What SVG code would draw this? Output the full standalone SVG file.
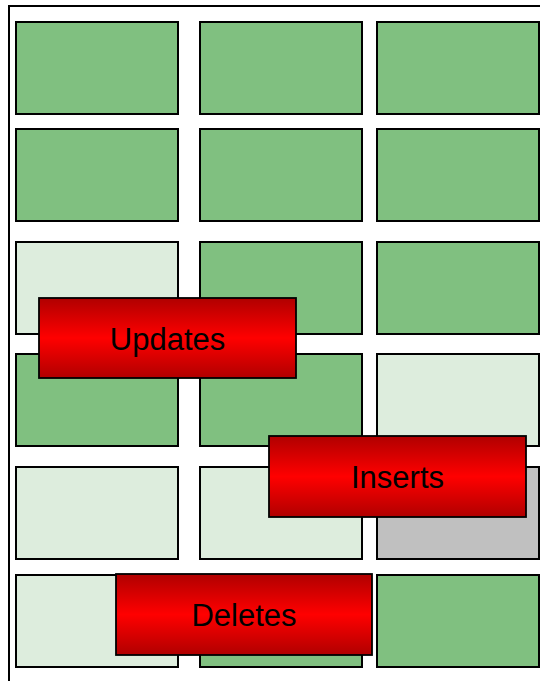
<svg xmlns="http://www.w3.org/2000/svg" width="540" height="681" viewBox="0 0 540 681">
<style>
.c{stroke:#000;stroke-width:2}
.g{fill:#80c080}
.l{fill:#ddeddd}
.y{fill:#c0c0c0}
.b{fill:url(#rg);stroke:#000;stroke-width:1.8}
.t{font-family:"Liberation Sans",Arial,sans-serif;font-size:31px;fill:#000;text-anchor:middle}
</style>
<defs>
<linearGradient id="rg" x1="0" y1="0" x2="0" y2="1">
<stop offset="0" stop-color="#b00000"/>
<stop offset="0.5" stop-color="#ff0000"/>
<stop offset="1" stop-color="#b00000"/>
</linearGradient>
</defs>
<rect x="9" y="6" width="540" height="690" fill="#fff" stroke="#000" stroke-width="2"/>
<g id="cells">
<rect class="c g" x="16" y="22" width="162" height="92"/>
<rect class="c g" x="200" y="22" width="162" height="92"/>
<rect class="c g" x="377" y="22" width="162" height="92"/>
<rect class="c g" x="16" y="129" width="162" height="92"/>
<rect class="c g" x="200" y="129" width="162" height="92"/>
<rect class="c g" x="377" y="129" width="162" height="92"/>
<rect class="c l" x="16" y="242" width="162" height="92"/>
<rect class="c g" x="200" y="242" width="162" height="92"/>
<rect class="c g" x="377" y="242" width="162" height="92"/>
<rect class="c g" x="16" y="354" width="162" height="92"/>
<rect class="c g" x="200" y="354" width="162" height="92"/>
<rect class="c l" x="377" y="354" width="162" height="92"/>
<rect class="c l" x="16" y="467" width="162" height="92"/>
<rect class="c l" x="200" y="467" width="162" height="92"/>
<rect class="c y" x="377" y="467" width="162" height="92"/>
<rect class="c l" x="16" y="575" width="162" height="92"/>
<rect class="c g" x="200" y="575" width="162" height="92"/>
<rect class="c g" x="377" y="575" width="162" height="92"/>
</g>
<g id="updates">
<rect class="b" x="39" y="298" width="257" height="80"/>
<text class="t" x="167.5" y="350">Updates</text>
</g>
<g id="inserts">
<rect class="b" x="269" y="436" width="257" height="81"/>
<text class="t" x="397.5" y="488">Inserts</text>
</g>
<g id="deletes">
<rect class="b" x="116" y="574" width="256" height="81"/>
<text class="t" x="244" y="626">Deletes</text>
</g>
<g id="connectors"/>
</svg>
